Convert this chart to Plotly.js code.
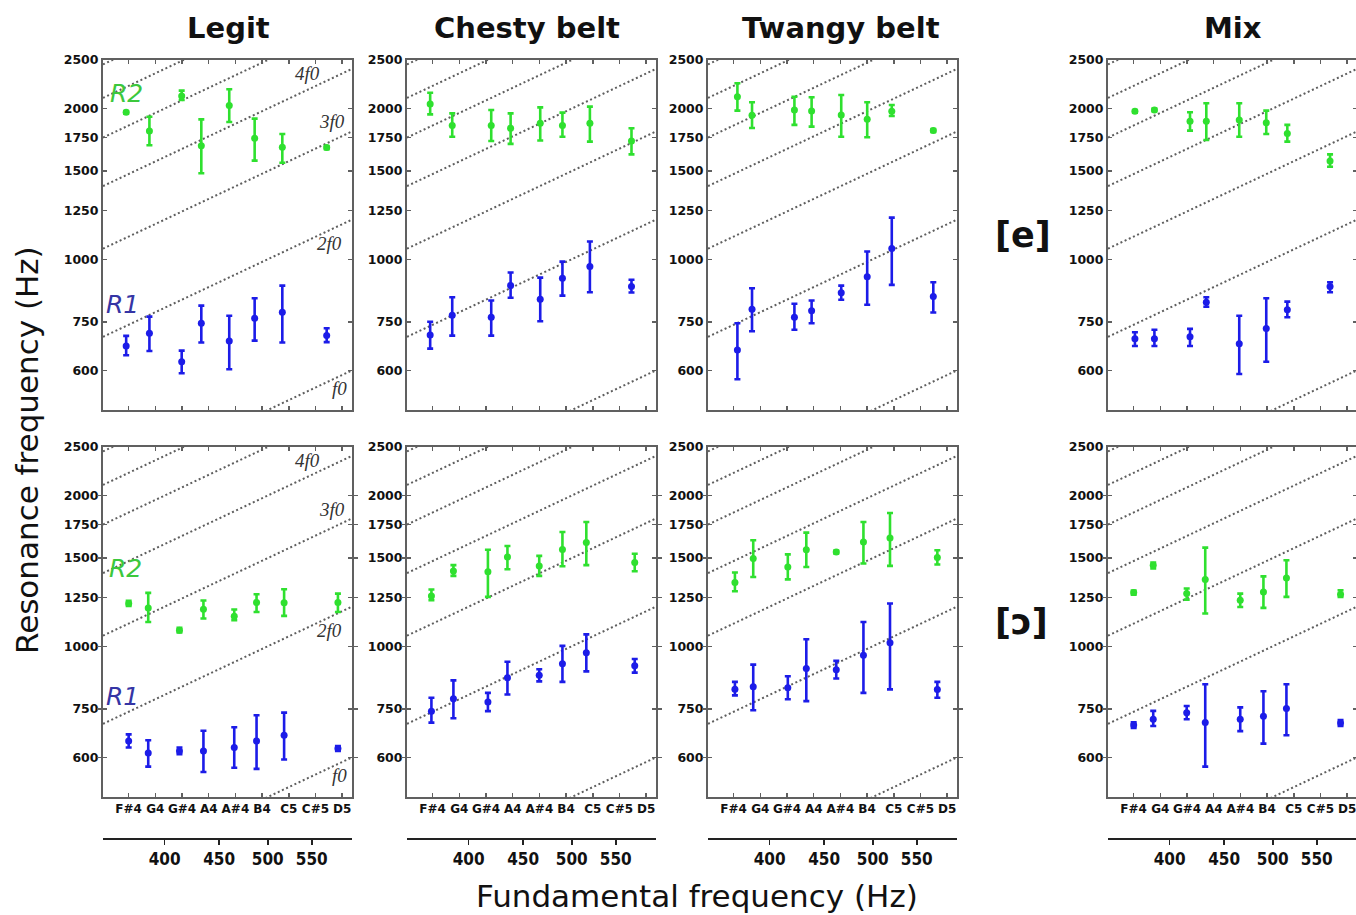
<!DOCTYPE html>
<html><head><meta charset="utf-8">
<script src="https://cdn.plot.ly/plotly-3.0.1.min.js"></script>
<style>html,body{margin:0;padding:0;overflow:hidden;background:#fff}#chart{width:1362px;height:915px}</style>
</head><body><div id="chart"></div>
<script>
// ---------------- data ----------------
const columnTitles = ['Legit', 'Chesty belt', 'Twangy belt', 'Mix'];
const vowelLabels = ['[e]', '[ɔ]'];
const noteNames = ['F#4', 'G4', 'G#4', 'A4', 'A#4', 'B4', 'C5', 'C#5', 'D5'];
const noteHz = [369.99, 392.00, 415.30, 440.00, 466.16, 493.88, 523.25, 554.37, 587.33];
const yTickVals = [600, 750, 1000, 1250, 1500, 1750, 2000, 2500];
const fTickVals = [400, 450, 500, 550];
const harmonics = [1, 2, 3, 4, 5, 6, 7];
const xRangeHz = [350, 600];
const yRangeHz = [500, 2500];

// Legit [e]
const legitE_f0   = [368, 387, 415, 433, 460, 486, 516, 568];
const legitE_R1   = [671, 712, 624, 745, 687, 762, 784, 704];
const legitE_R1hi = [703, 768, 657, 808, 771, 836, 886, 728];
const legitE_R1lo = [643, 656, 592, 682, 603, 688, 682, 683];
const legitE_R2   = [1966, 1804, 2119, 1686, 2027, 1744, 1673, 1671];
const legitE_R2hi = [1978, 1926, 2172, 1903, 2185, 1909, 1779, 1683];
const legitE_R2lo = [1954, 1689, 2080, 1485, 1880, 1574, 1559, 1659];
// Chesty belt [e]
const chestyE_f0   = [368, 386, 420, 438, 467, 490, 520, 569];
const chestyE_R1   = [706, 773, 766, 886, 832, 916, 967, 882];
const chestyE_R1hi = [750, 840, 827, 941, 919, 989, 1085, 910];
const chestyE_R1lo = [663, 704, 704, 838, 752, 846, 859, 858];
const chestyE_R2   = [2042, 1849, 1849, 1827, 1868, 1849, 1868, 1723];
const chestyE_R2hi = [2151, 1956, 1987, 1956, 2011, 1963, 2018, 1827];
const chestyE_R2lo = [1947, 1757, 1723, 1700, 1726, 1757, 1718, 1620];
// Twangy belt [e]
const twangyE_f0   = [373, 385, 422, 438, 467, 494, 521, 570];
const twangyE_R1   = [659, 795, 766, 789, 857, 923, 1051, 843];
const twangyE_R1hi = [745, 875, 815, 827, 886, 1036, 1211, 900];
const twangyE_R1lo = [576, 718, 723, 745, 830, 811, 889, 783];
const twangyE_R2   = [2112, 1938, 1987, 1978, 1941, 1903, 1974, 1807];
const twangyE_R2hi = [2246, 2058, 2112, 2106, 2129, 2058, 2033, 1819];
const twangyE_R2lo = [1981, 1829, 1855, 1840, 1757, 1752, 1933, 1795];
// Mix [e]
const mixE_f0   = [371, 387, 418, 433, 465, 493, 516, 566];
const mixE_R1   = [694, 694, 700, 821, 678, 727, 793, 882];
const mixE_R1hi = [715, 723, 726, 840, 771, 836, 823, 900];
const mixE_R1lo = [671, 671, 671, 804, 590, 624, 766, 859];
const mixE_R2   = [1974, 1987, 1886, 1886, 1898, 1874, 1782, 1571];
const mixE_R2hi = [1986, 1999, 1966, 2049, 2049, 1981, 1855, 1620];
const mixE_R2lo = [1962, 1975, 1807, 1731, 1757, 1779, 1718, 1530];
// Legit [ɔ]
const legitO_f0   = [370, 386, 413, 435, 465, 488, 518, 582];
const legitO_R1   = [647, 612, 618, 618, 628, 647, 664, 625];
const legitO_R1hi = [667, 649, 628, 678, 689, 728, 737, 632];
const legitO_R1lo = [628, 575, 609, 561, 572, 569, 594, 618];
const legitO_R2   = [1217, 1193, 1076, 1186, 1148, 1223, 1221, 1223];
const legitO_R2hi = [1232, 1278, 1089, 1234, 1184, 1270, 1300, 1274];
const legitO_R2lo = [1204, 1118, 1065, 1136, 1127, 1171, 1150, 1171];
// Chesty belt [ɔ]
const chestyO_f0   = [369, 387, 417, 435, 466, 490, 516, 573];
const chestyO_R1   = [742, 786, 774, 865, 875, 923, 971, 914];
const chestyO_R1hi = [789, 855, 807, 931, 900, 1002, 1056, 943];
const chestyO_R1lo = [704, 718, 742, 801, 851, 849, 891, 886];
const chestyO_R2   = [1260, 1414, 1408, 1508, 1447, 1561, 1611, 1470];
const chestyO_R2hi = [1298, 1452, 1559, 1586, 1515, 1691, 1771, 1530];
const chestyO_R2lo = [1236, 1382, 1255, 1425, 1382, 1445, 1452, 1412];
// Twangy belt [ɔ]
const twangyO_f0   = [371, 386, 416, 433, 462, 490, 519, 575];
const twangyO_R1   = [821, 830, 826, 903, 898, 960, 1016, 820];
const twangyO_R1hi = [849, 919, 871, 1033, 935, 1118, 1217, 849];
const twangyO_R1lo = [798, 745, 784, 777, 862, 807, 820, 789];
const twangyO_R2   = [1341, 1497, 1440, 1559, 1543, 1615, 1645, 1504];
const twangyO_R2hi = [1404, 1628, 1526, 1686, 1553, 1771, 1846, 1555];
const twangyO_R2lo = [1288, 1375, 1360, 1440, 1533, 1463, 1447, 1456];
// Mix [ɔ]
const mixO_f0   = [370, 386, 415, 432, 466, 490, 515, 579];
const mixO_R1   = [696, 715, 737, 704, 715, 725, 751, 703];
const mixO_R1hi = [705, 743, 760, 840, 755, 813, 840, 712];
const mixO_R1lo = [687, 693, 715, 575, 677, 639, 664, 693];
const mixO_R2   = [1280, 1452, 1274, 1360, 1236, 1284, 1369, 1270];
const mixO_R2hi = [1292, 1470, 1304, 1574, 1274, 1379, 1485, 1294];
const mixO_R2lo = [1268, 1430, 1239, 1163, 1198, 1193, 1255, 1255];

// ---------------- layout helpers ----------------
const W = 1362, H = 915;
const colLeft = [103, 407, 708, 1108];
const colWidth = 249;
const rowTop = [60, 447];
const rowHeight = 350;
const greenC = '#2fe02f', blueC = '#1c1ce8';
const frameC = '#606060';
const px = x => x / W;
const py = y => 1 - y / H;

const panels = [
  {r:0,c:0,f0:legitE_f0,R1:legitE_R1,R1hi:legitE_R1hi,R1lo:legitE_R1lo,R2:legitE_R2,R2hi:legitE_R2hi,R2lo:legitE_R2lo},
  {r:0,c:1,f0:chestyE_f0,R1:chestyE_R1,R1hi:chestyE_R1hi,R1lo:chestyE_R1lo,R2:chestyE_R2,R2hi:chestyE_R2hi,R2lo:chestyE_R2lo},
  {r:0,c:2,f0:twangyE_f0,R1:twangyE_R1,R1hi:twangyE_R1hi,R1lo:twangyE_R1lo,R2:twangyE_R2,R2hi:twangyE_R2hi,R2lo:twangyE_R2lo},
  {r:0,c:3,f0:mixE_f0,R1:mixE_R1,R1hi:mixE_R1hi,R1lo:mixE_R1lo,R2:mixE_R2,R2hi:mixE_R2hi,R2lo:mixE_R2lo},
  {r:1,c:0,f0:legitO_f0,R1:legitO_R1,R1hi:legitO_R1hi,R1lo:legitO_R1lo,R2:legitO_R2,R2hi:legitO_R2hi,R2lo:legitO_R2lo},
  {r:1,c:1,f0:chestyO_f0,R1:chestyO_R1,R1hi:chestyO_R1hi,R1lo:chestyO_R1lo,R2:chestyO_R2,R2hi:chestyO_R2hi,R2lo:chestyO_R2lo},
  {r:1,c:2,f0:twangyO_f0,R1:twangyO_R1,R1hi:twangyO_R1hi,R1lo:twangyO_R1lo,R2:twangyO_R2,R2hi:twangyO_R2hi,R2lo:twangyO_R2lo},
  {r:1,c:3,f0:mixO_f0,R1:mixO_R1,R1hi:mixO_R1hi,R1lo:mixO_R1lo,R2:mixO_R2,R2hi:mixO_R2hi,R2lo:mixO_R2lo}
];

const traces = [];
const layout = {
  width: W, height: H, margin: {l:0, r:0, t:0, b:0},
  paper_bgcolor: '#fff', plot_bgcolor: '#fff', showlegend: false,
  font: {family: 'DejaVu Sans, Arial, sans-serif', color: '#111'},
  annotations: []
};
const xr = [Math.log10(xRangeHz[0]), Math.log10(xRangeHz[1])];
const yr = [Math.log10(yRangeHz[0]), Math.log10(yRangeHz[1])];

panels.forEach((p, k) => {
  const i = k + 1;
  const xa = 'x' + i, ya = 'y' + i;
  // harmonic lines n*f0
  const hx = [], hy = [];
  harmonics.forEach(n => { hx.push(xRangeHz[0], xRangeHz[1], null); hy.push(n * xRangeHz[0], n * xRangeHz[1], null); });
  traces.push({x: hx, y: hy, xaxis: xa, yaxis: ya, mode: 'lines', hoverinfo: 'skip',
    line: {color: '#5e5e5e', width: 2, dash: '2px,2.6px'}});
  const mk = (vals, hi, lo, col) => ({
    x: p.f0, y: vals, xaxis: xa, yaxis: ya, mode: 'markers', type: 'scatter',
    marker: {color: col, size: 7},
    error_y: {type: 'data', symmetric: false,
      array: hi.map((h, j) => h - vals[j]), arrayminus: lo.map((l, j) => vals[j] - l),
      color: col, thickness: 2.6, width: 3}
  });
  traces.push(mk(p.R2, p.R2hi, p.R2lo, greenC));
  traces.push(mk(p.R1, p.R1hi, p.R1lo, blueC));

  const x0 = colLeft[p.c], x1 = colLeft[p.c] + colWidth;
  const yTop = rowTop[p.r], yBot = rowTop[p.r] + rowHeight;
  layout['xaxis' + i] = {
    domain: [px(x0), px(x1)], anchor: ya, type: 'log', range: xr,
    tickmode: 'array', tickvals: noteHz, ticktext: noteNames,
    showticklabels: p.r === 1, ticks: 'inside', ticklen: 4, tickwidth: 1.5, tickcolor: frameC,
    mirror: 'allticks', showline: true, linecolor: frameC, linewidth: 2,
    showgrid: false, zeroline: false,
    tickfont: {family: 'DejaVu Sans', size: 12, color: '#111', weight: 'bold'}
  };
  layout['yaxis' + i] = {
    domain: [py(yBot), py(yTop)], anchor: xa, type: 'log', range: yr,
    tickmode: 'array', tickvals: yTickVals, ticktext: yTickVals.map(String),
    ticks: 'inside', ticklen: 4, tickwidth: 1.5, tickcolor: frameC,
    mirror: 'allticks', showline: true, linecolor: frameC, linewidth: 2,
    showgrid: false, zeroline: false,
    tickfont: {family: 'DejaVu Sans', size: 12.5, color: '#111', weight: 'bold'}
  };
});

// numeric fundamental-frequency axes below each column
for (let c = 0; c < 4; c++) {
  const i = 9 + c;
  const base = 5 + c;
  layout['xaxis' + i] = {
    overlaying: 'x' + base, anchor: 'free', position: py(838), side: 'bottom',
    type: 'log', range: xr, tickmode: 'array', tickvals: fTickVals, ticktext: fTickVals.map(String),
    ticks: 'outside', ticklen: 5, tickwidth: 1.5, tickcolor: '#222',
    showline: true, linecolor: '#222', linewidth: 1.5, showgrid: false, zeroline: false,
    tickfont: {family: 'Liberation Sans Narrow, DejaVu Sans Condensed, Arial', size: 17, color: '#111', weight: 'bold'}
  };
  traces.push({x: fTickVals, y: fTickVals.map(() => 1000), xaxis: 'x' + i, yaxis: 'y' + base,
    mode: 'markers', marker: {opacity: 0}, hoverinfo: 'skip'});
}

const ann = (text, x, y, font, extra) => layout.annotations.push(Object.assign({
  text, x: px(x), y: py(y), xref: 'paper', yref: 'paper', showarrow: false,
  xanchor: 'center', yanchor: 'middle', font}, extra || {}));

const titleFont = {family: 'DejaVu Sans', size: 29, color: '#111', weight: 'bold'};
[228, 527, 841, 1233].forEach((x, c) => ann(columnTitles[c], x, 28, titleFont));
const vowelFont = {family: 'DejaVu Sans', size: 35, color: '#111', weight: 'bold'};
ann(vowelLabels[0], 1023, 235, vowelFont);
ann(vowelLabels[1], 1022, 622, vowelFont);
ann('Fundamental frequency (Hz)', 697, 896, {family: 'DejaVu Sans', size: 31, color: '#111'});
ann('Resonance frequency (Hz)', 27, 450, {family: 'DejaVu Sans', size: 31, color: '#111'}, {textangle: -90});

const rFontG = {family: 'DejaVu Sans', size: 25, color: '#3cc83c', style: 'italic'};
const rFontB = {family: 'DejaVu Sans', size: 25, color: '#3535a5', style: 'italic'};
ann('R2', 126, 94, rFontG); ann('R1', 123, 304, rFontB);
ann('R2', 125, 568, rFontG); ann('R1', 123, 696, rFontB);

const hFont = {family: 'Liberation Serif, Times New Roman, serif', size: 19, color: '#333', style: 'italic'};
[[0, 0], [1, 387]].forEach(([r, dy]) => {
  ann('4f0', 307, 73 + dy, hFont);
  ann('3f0', 332, 122 + dy, hFont);
  ann('2f0', 329, 243 + dy, hFont);
  ann('f0', 339, 388 + dy, hFont);
});

Plotly.newPlot('chart', traces, layout, {displayModeBar: false, staticPlot: true});
</script></body></html>
